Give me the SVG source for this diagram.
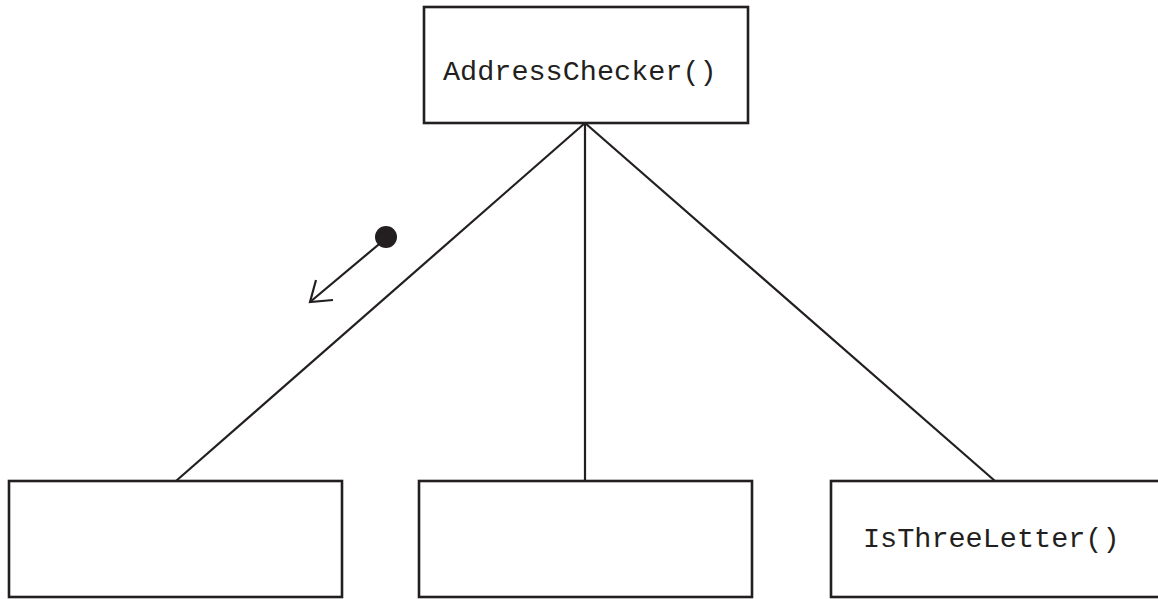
<svg xmlns="http://www.w3.org/2000/svg" width="1158" height="599" viewBox="0 0 1158 599">
<style>
.box{fill:#fff;stroke:#231f20;stroke-width:2.6}
.lbl{font-family:"Liberation Mono","Courier New",monospace;font-size:28.5px;fill:#231f20}
.conn{stroke:#231f20;stroke-width:2.2;fill:none}
</style>
<rect width="1158" height="599" fill="#fff"/>
<g id="connectors">
<line class="conn" x1="585" y1="123" x2="176" y2="481"/>
<line class="conn" x1="585" y1="123" x2="585" y2="481"/>
<line class="conn" x1="585" y1="123" x2="995" y2="481"/>
<line class="conn" x1="384" y1="240" x2="310" y2="302"/>
<polyline class="conn" points="316,280 310,302 333,300"/>
<circle cx="386" cy="237" r="11" fill="#231f20"/>
</g>
<g id="node-address-checker">
<rect class="box" x="424" y="7" width="324" height="116"/>
<text class="lbl" x="443" y="80">AddressChecker()</text>
</g>
<g id="node-left">
<rect class="box" x="9" y="481" width="333" height="116"/>
</g>
<g id="node-middle">
<rect class="box" x="419" y="481" width="333" height="116"/>
</g>
<g id="node-is-three-letter">
<rect class="box" x="831" y="481" width="340" height="116"/>
<text class="lbl" x="863" y="547">IsThreeLetter()</text>
</g>
</svg>
